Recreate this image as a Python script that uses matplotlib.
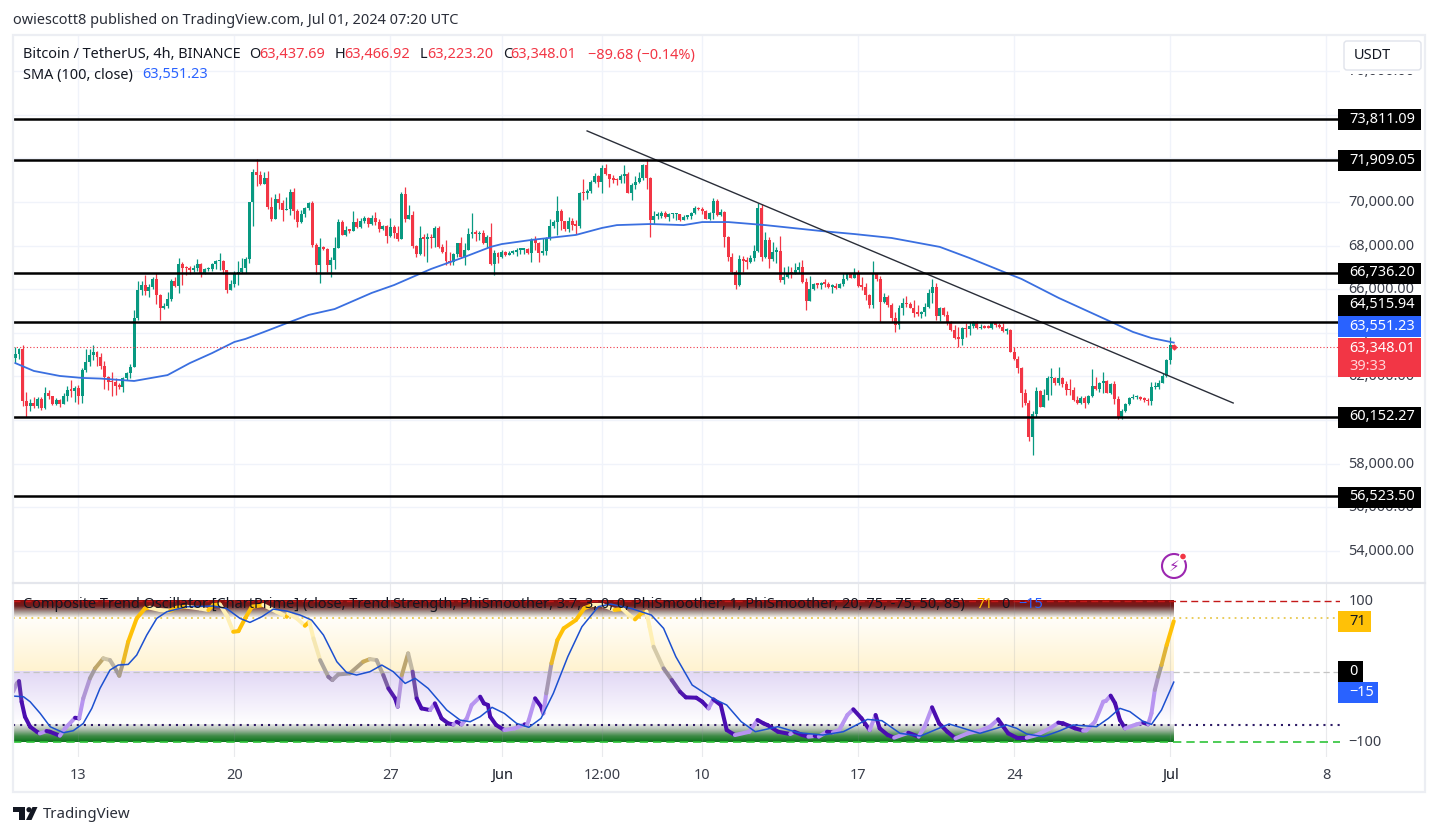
import numpy as np
import matplotlib
matplotlib.use("Agg")
import matplotlib.pyplot as plt
from matplotlib.collections import LineCollection
from matplotlib.colors import LinearSegmentedColormap, to_rgb
from matplotlib.patches import Circle, FancyBboxPatch, Polygon, Rectangle
from matplotlib.transforms import ScaledTranslation

plt.rcParams['font.family'] = ['Noto Sans', 'DejaVu Sans']

# 4h candles in thousands of USDT, one entry per bar (May 10 04:00 -> Jul 1 04:00)
closes_k = [
    63.03, 63.24, 60.89, 60.64, 60.77, 60.64, 60.95, 60.54, 61.22, 61.1,
    60.74, 60.92, 60.74, 61.1, 61.38, 61.35, 61.49, 61.12, 62.3, 62.68,
    62.98, 63.14, 62.88, 62.48, 61.99, 61.76, 61.73, 61.56, 61.53, 61.91,
    62.14, 62.42, 64.66, 65.96, 66.19, 65.93, 66.11, 66.47, 65.73, 65.15,
    65.23, 65.53, 66.39, 66.15, 67.16, 66.97, 66.96, 66.88, 66.95, 67.16,
    66.76, 66.91, 66.93, 67.16, 67.29, 67.3, 66.88, 65.96, 66.24, 66.7,
    66.77, 66.95, 67.37, 69.98, 71.39, 71.24, 70.83, 71.09, 69.79, 69.2,
    70.12, 69.94, 69.63, 69.7, 70.47, 69.6, 69.1, 69.45, 69.71, 69.94,
    68.03, 67.11, 67.92, 67.86, 67.11, 67.34, 67.9, 69.1, 68.49, 68.72,
    68.69, 69.1, 68.84, 69.14, 69.25, 69.0, 69.28, 69.1, 68.74, 68.9,
    68.44, 68.87, 68.56, 68.29, 70.37, 69.2, 69.4, 67.99, 67.61, 68.33,
    68.31, 68.38, 68.33, 68.79, 67.95, 67.72, 67.29, 67.23, 67.6, 68.1,
    67.49, 67.8, 68.53, 68.64, 68.53, 68.56, 68.1, 68.38, 67.16, 67.68,
    67.46, 67.72, 67.57, 67.68, 67.69, 67.8, 67.82, 67.84, 67.68, 68.26,
    68.1, 67.68, 67.75, 68.33, 68.9, 69.07, 69.59, 69.14, 68.75, 69.14,
    68.95, 68.9, 70.43, 70.41, 70.52, 70.9, 71.19, 70.9, 71.57, 71.28,
    71.04, 71.01, 71.0, 71.19, 71.28, 70.43, 70.78, 70.93, 71.09, 71.7,
    71.09, 69.17, 69.36, 69.37, 69.48, 69.33, 69.43, 69.44, 69.45, 69.17,
    69.33, 69.34, 69.51, 69.71, 69.66, 69.59, 69.22, 69.48, 70.06, 69.4,
    69.56, 68.41, 67.49, 66.8, 66.19, 67.37, 67.29, 67.26, 67.42, 67.75,
    69.71, 67.49, 68.26, 67.38, 67.72, 67.75, 66.42, 66.57, 66.73, 66.7,
    66.88, 67.0, 66.35, 65.47, 66.01, 66.24, 66.21, 66.27, 66.24, 66.12,
    66.15, 66.07, 66.22, 66.47, 66.73, 66.53, 66.73, 66.15, 66.12, 65.73,
    65.27, 66.7, 66.47, 65.43, 65.66, 65.27, 64.66, 64.36, 65.12, 65.38,
    65.3, 65.15, 64.89, 64.87, 64.97, 65.17, 65.81, 66.12, 64.77, 65.12,
    64.82, 64.43, 64.13, 63.75, 63.72, 64.2, 64.16, 64.31, 64.51, 64.2,
    64.25, 64.23, 64.22, 64.43, 64.34, 64.28, 64.1, 64.13, 63.13, 62.82,
    62.37, 61.23, 60.77, 59.24, 60.28, 61.33, 60.61, 61.15, 61.91, 61.92,
    61.68, 61.91, 61.65, 61.38, 61.36, 60.92, 60.77, 61.0, 60.77, 61.1,
    61.56, 61.41, 61.68, 61.79, 61.26, 61.65, 60.97, 60.08, 60.43, 60.74,
    61.0, 61.04, 61.06, 60.98, 60.92, 60.87, 61.5, 61.53, 61.72, 62.02,
    62.76, 63.44, 63.348,
]
highs_k = [
    63.33, 63.29, 63.44, 61.27, 60.95, 61.04, 61.04, 61.04, 61.5, 61.38,
    61.1, 61.0, 60.97, 61.22, 61.56, 61.84, 61.55, 61.6, 62.37, 63.24,
    63.24, 63.44, 63.15, 63.06, 62.72, 62.0, 62.22, 61.91, 61.68, 61.95,
    62.22, 62.57, 65.04, 66.39, 66.39, 66.65, 66.25, 66.57, 66.73, 65.8,
    65.38, 65.89, 66.45, 66.57, 67.42, 67.26, 67.06, 67.05, 67.1, 67.37,
    67.2, 66.96, 67.0, 67.22, 67.33, 67.68, 67.33, 66.9, 66.4, 66.85,
    67.29, 67.42, 67.46, 70.0, 71.5, 71.96, 71.4, 71.39, 71.44, 70.21,
    70.37, 70.4, 70.09, 70.24, 70.58, 70.63, 69.7, 69.65, 69.78, 70.0,
    70.06, 68.1, 68.33, 67.98, 67.9, 67.46, 68.38, 69.2, 69.17, 68.9,
    68.77, 69.59, 69.25, 69.25, 69.36, 69.3, 69.4, 69.56, 69.2, 68.95,
    68.95, 69.25, 68.95, 68.9, 70.47, 70.67, 69.86, 69.6, 68.05, 68.9,
    68.53, 68.56, 68.53, 68.9, 68.9, 68.07, 68.26, 67.72, 67.64, 68.13,
    68.38, 68.1, 68.79, 69.48, 68.72, 68.68, 68.72, 68.49, 69.05, 67.8,
    67.72, 67.8, 67.77, 67.75, 67.8, 67.87, 67.83, 67.87, 67.87, 68.33,
    68.44, 68.18, 68.33, 68.38, 69.2, 69.17, 70.27, 69.66, 69.15, 69.3,
    69.25, 69.17, 70.47, 71.04, 70.58, 71.0, 71.35, 71.24, 71.7, 71.74,
    71.3, 71.24, 71.09, 71.28, 71.7, 71.39, 70.86, 71.19, 71.39, 71.74,
    71.96, 71.13, 69.59, 69.56, 69.59, 69.59, 69.51, 69.48, 69.48, 69.4,
    69.4, 69.4, 69.56, 69.82, 69.78, 69.78, 69.63, 69.56, 70.17, 70.12,
    69.66, 69.6, 68.44, 67.64, 66.9, 67.57, 67.52, 67.49, 67.57, 68.03,
    69.97, 69.91, 68.64, 68.41, 68.18, 67.92, 68.44, 67.0, 67.06, 67.0,
    67.19, 67.26, 67.34, 66.5, 66.6, 66.27, 66.3, 66.35, 66.45, 66.35,
    66.24, 66.27, 66.3, 66.73, 66.76, 66.73, 66.96, 66.88, 66.54, 66.27,
    65.8, 67.29, 66.76, 66.6, 65.84, 65.73, 65.38, 64.97, 65.27, 65.58,
    65.69, 65.43, 65.5, 65.27, 65.02, 65.35, 66.0, 66.45, 66.27, 65.17,
    65.17, 65.02, 64.56, 64.36, 64.25, 64.25, 64.46, 64.51, 64.54, 64.55,
    64.39, 64.36, 64.36, 64.51, 64.47, 64.47, 64.44, 64.2, 64.16, 63.36,
    62.94, 62.45, 61.41, 60.92, 60.43, 61.53, 61.38, 61.41, 62.02, 62.37,
    61.96, 62.45, 61.99, 61.79, 61.87, 61.53, 61.1, 61.1, 61.1, 61.15,
    62.33, 61.96, 61.76, 62.22, 61.84, 61.68, 61.81, 61.1, 60.49, 60.8,
    61.07, 61.18, 61.15, 61.1, 61.05, 61.0, 61.76, 61.76, 61.84, 62.14,
    62.79, 63.8, 63.467,
]
lows_k = [
    62.6, 62.78, 60.64, 60.15, 60.43, 60.55, 60.55, 60.46, 60.5, 60.96,
    60.7, 60.68, 60.58, 60.74, 60.89, 61.07, 60.84, 60.74, 60.8, 62.2,
    62.48, 62.75, 62.48, 62.33, 61.41, 61.38, 61.12, 61.15, 61.41, 61.3,
    61.84, 61.91, 62.42, 64.6, 65.73, 65.73, 65.66, 65.99, 65.32, 64.59,
    65.08, 65.12, 65.47, 66.1, 65.84, 66.19, 66.65, 66.7, 66.8, 66.85,
    66.57, 66.7, 66.82, 66.85, 66.91, 66.88, 66.7, 65.84, 65.96, 66.1,
    66.2, 66.73, 66.76, 67.19, 68.9, 70.73, 70.78, 70.83, 69.66, 69.14,
    69.2, 69.7, 69.14, 69.63, 69.4, 69.2, 68.84, 69.05, 69.33, 69.65,
    67.95, 66.7, 66.3, 67.8, 66.8, 66.57, 66.91, 67.87, 68.47, 68.45,
    68.56, 68.68, 68.8, 68.8, 69.05, 68.84, 68.95, 68.95, 68.64, 68.7,
    68.13, 68.4, 68.33, 68.23, 68.35, 69.1, 69.2, 67.87, 67.49, 67.55,
    67.53, 67.26, 67.9, 67.95, 67.87, 67.64, 67.11, 67.11, 67.11, 67.5,
    67.42, 67.11, 67.78, 68.33, 68.2, 68.26, 68.07, 67.87, 67.11, 66.65,
    67.19, 67.42, 67.52, 67.55, 67.6, 67.52, 67.6, 67.6, 67.6, 67.26,
    67.8, 67.26, 67.57, 67.57, 68.26, 68.79, 68.49, 68.72, 68.68, 68.64,
    68.72, 68.53, 68.79, 70.09, 70.12, 70.43, 70.86, 70.67, 70.4, 71.24,
    70.7, 70.86, 70.78, 70.89, 70.89, 70.4, 70.09, 70.58, 70.89, 71.0,
    70.58, 68.41, 68.99, 69.2, 69.25, 69.28, 69.14, 69.25, 69.17, 69.13,
    69.2, 69.2, 69.22, 69.45, 69.63, 69.45, 69.2, 69.17, 69.2, 69.36,
    69.36, 67.95, 67.29, 66.73, 66.0, 66.15, 66.8, 66.91, 67.22, 67.31,
    67.7, 67.29, 67.41, 66.96, 67.31, 67.19, 66.35, 66.24, 66.5, 66.5,
    66.7, 66.76, 66.27, 65.05, 65.45, 65.96, 66.05, 66.0, 66.08, 66.04,
    65.84, 66.02, 66.1, 66.16, 66.42, 66.5, 66.5, 66.1, 65.96, 65.5,
    65.12, 65.12, 66.39, 64.51, 65.35, 65.17, 64.51, 64.05, 64.16, 64.82,
    65.17, 65.12, 64.74, 64.77, 64.66, 64.77, 65.12, 65.35, 64.59, 64.56,
    64.78, 64.36, 64.1, 63.7, 63.36, 63.44, 63.82, 63.9, 64.2, 64.16,
    64.16, 64.2, 64.2, 64.17, 64.28, 64.22, 64.05, 63.94, 63.1, 62.75,
    62.14, 60.58, 60.69, 59.05, 58.4, 60.15, 60.58, 60.58, 60.92, 61.15,
    61.6, 61.6, 61.53, 61.15, 61.15, 60.89, 60.74, 60.74, 60.57, 60.74,
    61.07, 61.38, 61.3, 61.26, 61.23, 61.2, 60.74, 60.05, 60.05, 60.38,
    60.69, 60.95, 60.95, 60.92, 60.83, 60.69, 60.68, 61.41, 61.41, 61.68,
    61.95, 62.56, 63.223,
]
first_open_k = 62.84

# SMA(100), read at bar positions along the curve
sma_bars = [0, 5, 12, 18, 23, 32, 41, 47, 53, 59, 62, 67, 74, 79, 86, 96, 102, 112, 121, 128,
            131, 139, 151, 158, 162, 171, 180, 185, 192, 202, 217, 226, 236, 249, 257, 267,
            271, 281, 294, 301, 306, 312]
sma_k = [62.61, 62.25, 62.02, 61.93, 61.9, 61.79, 62.06, 62.61, 63.07, 63.58, 63.72, 64.04, 64.5,
         64.82, 65.09, 65.83, 66.19, 66.93, 67.48, 67.94, 68.07, 68.26, 68.49, 68.81, 68.94,
         68.99, 68.94, 69.08, 69.08, 68.94, 68.67, 68.53, 68.35, 67.94, 67.43, 66.74, 66.47,
         65.6, 64.59, 64.04, 63.76, 63.55]

# drawn trendline, two anchors
trend_bars = [154, 328]
trend_k = [73.26, 60.78]

level_prices = [73811.09, 71909.05, 66736.20, 64515.94, 60152.27, 56523.50]
last_price = 63348.01
price_ticks = [54000, 56000, 58000, 60000, 62000, 64000, 66000, 68000, 70000, 72000, 74000, 76000]

# time axis
time_ticks = [17, 59, 101, 131, 158, 185, 227, 269, 311, 353]
time_labels = ['13', '20', '27', 'Jun', '12:00', '10', '17', '24', 'Jul', '8']
time_bold = ['Jun', 'Jul']

# oscillator thick line, read at its bends
osc_bars = [-0.6, 0.4, 1.0, 1.7, 2.6, 4.0, 5.8, 6.6, 8.4, 9.3, 12.0, 13.4, 16.1, 17.2, 18.3, 20.1,
            21.5, 23.7, 25.5, 26.9, 28.0, 29.1, 30.4, 32.7, 34.9, 36.3, 39.0, 41.7, 43.5, 46.2,
            49.7, 52.0, 53.3, 55.1, 56.9, 58.7, 60.1, 61.9, 63.7, 66.8, 70.4, 73.1, 73.5, 75.8,
            78.0, 79.2, 80.3, 82.1, 84.3, 85.4, 87.0, 90.1, 93.7, 95.5, 97.3, 99.1, 100.5, 102.3,
            103.0, 104.1, 105.8, 107.0, 108.1, 109.4, 111.7, 113.0, 114.8, 116.6, 118.0, 118.9,
            120.2, 121.6, 122.9, 125.2, 126.2, 127.3, 127.9, 129.5, 131.7, 134.5, 137.2, 137.8,
            138.3, 140.0, 141.6, 142.2, 143.0, 144.4, 146.0, 147.7, 151.0, 153.2, 155.4, 158.1,
            161.4, 163.6, 165.3, 166.9, 168.6, 170.0, 170.8, 171.9, 174.6, 176.8, 179.0, 180.6,
            183.4, 185.0, 186.7, 188.0, 190.0, 191.6, 193.8, 197.7, 199.9, 201.5, 202.6, 205.4,
            208.7, 209.8, 212.0, 213.6, 215.3, 216.4, 218.6, 220.2, 221.9, 224.1, 225.7, 227.9,
            230.1, 231.7, 232.8, 235.0, 236.7, 240.5, 243.3, 244.9, 246.9, 248.8, 251.0, 253.2,
            256.5, 259.8, 262.5, 264.7, 266.1, 267.4, 269.7, 272.4, 275.1, 278.7, 280.9, 282.2,
            285.4, 287.6, 288.5, 290.8, 293.0, 293.7, 295.0, 296.2, 297.5, 298.9, 302.0, 303.8,
            305.1, 306.0, 306.9, 307.8, 308.7, 310.1, 312.0]
osc_vals = [-28.6, -16.8, -13.5, -42.7, -63.8, -78, -85, -87.4, -84, -85, -90.7, -80.3, -65.3, -66.2,
            -38, -9.7, 4.4, 18.5, 16.1, 4.4, -6, 13.8, 42, 75, 89, 90, 86.7, 85.8, 90, 91.4,
            89, 86.7, 93.8, 94.7, 79.7, 56.1, 57, 75, 91.4, 93.8, 84.4, 77.3, 82, 75,
            64.6, 70.2, 46.7, 16.1, -7.4, -12.1, -4.1, -2.7, 13.8, 17.5, 16.1, -5, -23.9, -38,
            -49.7, -5, 25.5, -0.3, -38, -52.1, -54.4, -45, -66.2, -73.3, -74.7, -70.9,
            -74.7, -66.2, -47.4, -35.6, -45, -47.3, -63.8, -75.6, -82.6, -80.3, -74.6, -75.6,
            -68.5, -37.9, -49.7, -59.1, -30.9, 11.5, 44.4, 60.9, 72.7, 89.1, 93.8, 93.8,
            86.8, 88.2, 79.7, 73.6, 82.1, 84.4, 63.2, 35, 4.4, -12, -28.5, -36.5,
            -37, -42.6, -52, -39.3, -47.3, -82.6, -89.7, -85, -68.5, -73.2, -75.6, -85,
            -88.3, -85, -89.7, -92, -91, -92, -85, -86, -82.6, -61.4, -53.4, -66.1,
            -82.6, -61.4, -80.3, -89.7, -93.4, -86.4, -92, -77.9, -50.6, -73.2, -85, -94.4,
            -87.3, -83.5, -77.9, -67.5, -77.9, -87.3, -93.4, -93.4, -89.6, -80.2, -72.2, -73.2,
            -80.2, -83.5, -83, -70.8, -42.6, -41.6, -34.1, -44.9, -68.4, -80.2, -74.6, -72.2,
            -74.6, -59, -26.1, -7.4, 9.1, 37.3, 71]

# oscillator signal line (thin blue)
signal_bars = [-0.5, 2.2, 4.0, 6.7, 9.4, 13.0, 15.6, 18.3, 20.6, 22.8, 25.5, 27.7, 30.4, 32.7, 35.4,
               38.1, 40.8, 46.2, 53.3, 56.9, 60.5, 63.2, 66.4, 69.5, 73.1, 76.7, 79.8, 83.0, 86.6,
               89.2, 91.9, 95.5, 98.7, 101.8, 105.0, 107.7, 111.2, 116.2, 119.8, 122.5, 125.2,
               128.4, 131.7, 135.0, 138.3, 141.6, 144.9, 148.8, 152.6, 157.0, 160.3, 165.8, 171.3,
               174.6, 177.9, 182.3, 187.8, 191.6, 195.5, 199.3, 205.4, 210.9, 217.5, 223.0, 229.5,
               233.4, 238.3, 243.8, 251.5, 259.8, 264.3, 267.0, 269.7, 272.4, 276.9, 281.4, 284.9,
               291.2, 294.4, 297.5, 300.2, 303.8, 306.0, 308.7, 312.0]
signal_vals = [-34.7, -35.6, -42.7, -59.1, -78, -86.4, -83.6, -73.3, -52.1, -23.9, 2, 9.1, 10, 23.2, 51.4,
               75, 84.4, 91.4, 92.4, 89, 75, 69.3, 77.3, 88.1, 85.3, 79.7, 72.6, 51.4, 13.8,
               -1.3, -5, -0.3, 9.1, -0.3, -16.8, -9.7, -23.9, -54.4, -68.6, -70.9, -63.8,
               -50.6, -59.1, -73.2, -78.8, -66.1, -30.9, 20.9, 63.2, 91.5, 95.2, 89.1, 79.7,
               60.9, 20.9, -19.1, -37.9, -47.3, -70.8, -85, -77.9, -86.4, -89.7, -85, -67.6,
               -69.4, -87.3, -91.1, -74.1, -87.3, -80.2, -75.5, -80.2, -88.2, -92, -83.5, -75.5,
               -77.9, -66.1, -52, -56.7, -70.8, -74.6, -54.3, -15]

# colours
GREEN = '#089981'
RED = '#f23645'
BLUE = '#2962ff'
GRID = '#f0f3fa'
TEXT = '#131722'
GOLD = '#ffc107'
PALE = '#fff0b5'
DARK_PURPLE = '#4a0db0'
LIGHT_PURPLE = '#b794f0'

W, H = 1438, 836
LEFT, RIGHT = 13, 1340
BAR0_PX, BAR_PX = 15.3, 3.713
X_LIM = ((LEFT - BAR0_PX) / BAR_PX, (RIGHT - BAR0_PX) / BAR_PX)
FONT = 10.45


def px_axes(fig, x0, y0, x1, y1, **kw):
    return fig.add_axes([x0 / W, 1 - y1 / H, (x1 - x0) / W, (y1 - y0) / H], **kw)


def lift_labels(axis_obj, fig, pixels):
    # tick labels sit a little high in the reference
    shift = ScaledTranslation(0, pixels / 72 * 0.72, fig.dpi_scale_trans)
    for lab in axis_obj.get_ticklabels():
        lab.set_transform(lab.get_transform() + shift)


fig = plt.figure(figsize=(W / 100, H / 100), dpi=100, facecolor='white')

# ---- price pane ----
ax = px_axes(fig, LEFT, 36, RIGHT, 582, zorder=1)
ax.set_xlim(*X_LIM)
ax.set_ylim(70000 - (582 - 202) / 21.8 * 1000, 70000 + (202 - 36) / 21.8 * 1000)
for s in ax.spines.values():
    s.set_visible(False)
ax.set_axisbelow(True)
ax.grid(True, color=GRID, lw=1)

closes = np.array(closes_k) * 1000
opens = np.r_[first_open_k * 1000, closes[:-1]]
highs = np.maximum(np.array(highs_k) * 1000, np.maximum(opens, closes))
lows = np.minimum(np.array(lows_k) * 1000, np.minimum(opens, closes))
bars = np.arange(len(closes))
colors = [GREEN if c >= o else RED for o, c in zip(opens, closes)]

ax.vlines(bars, lows, highs, colors=colors, lw=0.9, zorder=2)
heights = np.maximum(np.abs(closes - opens), 70)
ax.bar(bars, heights, bottom=np.minimum(opens, closes), width=0.8, color=colors, lw=0, zorder=3)

ax.plot(sma_bars, np.array(sma_k) * 1000, color='#3a6fe0', lw=1.3, zorder=4)
ax.plot(trend_bars, np.array(trend_k) * 1000, color='#2a2e39', lw=1, zorder=5)
for p in level_prices:
    ax.axhline(p, color='black', lw=1.8, zorder=6)
ax.axhline(last_price, color=RED, lw=0.8, ls=(0, (1, 2)), zorder=4)
ax.plot([bars[-1]], [last_price], marker='o', ms=2.5, color=RED, zorder=7)

ax.set_xticks(time_ticks)
ax.tick_params(axis='x', length=0, labelbottom=False)
ax.set_yticks(price_ticks)
ax.set_yticklabels([f'{p:,.2f}' for p in price_ticks])
ax.yaxis.tick_right()
ax.tick_params(axis='y', length=0, pad=6, labelsize=FONT, labelcolor='#3a3e4a')
lift_labels(ax.yaxis, fig, 1.5)

# ---- oscillator pane ----
OSC_PX = 0.7085
osc = px_axes(fig, LEFT, 583, RIGHT, 757, zorder=1)
osc.set_facecolor('white')
for s in osc.spines.values():
    s.set_visible(False)

band_end = bars[-1]
bands = [
    (75, 100, ['#fffdf6', '#a89a94', '#6f2020', '#8c0c0c']),
    (0, 75, ['#fff3d0', '#fffefa']),
    (-75, 0, ['#ffffff', '#e2d8f5']),
    (-100, -75, ['#0b741b', '#3f8a47', '#a5b8a5', '#ebebeb']),
]
for lo, hi, cols in bands:
    cmap = LinearSegmentedColormap.from_list('band', cols)
    osc.imshow(np.linspace(1, 0, 64)[:, None], extent=[X_LIM[0], band_end, lo, hi],
               aspect='auto', cmap=cmap, vmin=0, vmax=1, zorder=1)

osc.set_xlim(*X_LIM)
osc.set_ylim(-(757 - 671.5) / OSC_PX, (671.5 - 583) / OSC_PX)
for t in time_ticks:
    osc.axvline(t, color='#8a8f9c', lw=0.8, alpha=0.18, zorder=2)

osc.axhline(100, color='#c41818', lw=1, ls=(0, (5, 3)), zorder=3)
osc.axhline(75, color='#e8c84e', lw=1.3, ls=(0, (1, 2.4)), zorder=3)
osc.axhline(0, color='#c4c4c4', lw=0.9, ls=(0, (5, 3)), zorder=3)
osc.axhline(-75, color='#2d1a66', lw=1.5, ls=(0, (1, 2.4)), zorder=3)
osc.axhline(-100, color='#2fc43a', lw=1.2, ls=(0, (5, 3)), zorder=3)

osc.plot(signal_bars, signal_vals, color='#1c50d0', lw=1.1, zorder=6)

# thick line takes its colour from direction and distance from zero
pts = np.column_stack([osc_bars, osc_vals])
segs = np.stack([pts[:-1], pts[1:]], axis=1)
seg_cols = []
for (x0, v0), (x1, v1) in segs:
    mid = (v0 + v1) / 2
    rising = v1 > v0
    if mid >= 0:
        base = GOLD if rising else PALE
    else:
        base = LIGHT_PURPLE if rising else DARK_PURPLE
    mix = min(abs(mid) / 35, 1)
    seg_cols.append(tuple(mix * b + (1 - mix) * g for b, g in zip(to_rgb(base), to_rgb('#a09a9a'))))
osc.add_collection(LineCollection(segs, colors=seg_cols, linewidths=2.9, capstyle='round', zorder=5))

osc.set_xticks(time_ticks)
osc.set_xticklabels(time_labels)
for lab in osc.get_xticklabels():
    lab.set_color(TEXT if lab.get_text() in time_bold else '#3a3e4a')
    lab.set_fontweight('bold' if lab.get_text() in time_bold else 'normal')
osc.tick_params(axis='x', length=0, pad=8, labelsize=FONT)
osc.set_yticks([100, -100])
osc.set_yticklabels(['100', '\u2212100'])
osc.yaxis.tick_right()
osc.tick_params(axis='y', length=0, pad=6, labelsize=FONT, labelcolor='#3a3e4a')
lift_labels(osc.yaxis, fig, 1.5)

# ---- page furniture, in pixel coordinates ----
top = px_axes(fig, 0, 0, W, H, zorder=5)
top.set_xlim(0, W)
top.set_ylim(H, 0)
top.axis('off')
top.patch.set_alpha(0)


def label(x, y, s, color=TEXT, size=FONT, **kw):
    top.text(x, y + 1, s, color=color, fontsize=size, va='center', **kw)


top.add_patch(Rectangle((LEFT, 34.5), 1425 - LEFT, 792 - 34.5, fc='none', ec='#eceef3', lw=1.6))
top.plot([LEFT, 1425], [582.5, 582.5], color='#e4e6ec', lw=1.6)

label(13, 19, 'owiescott8 published on TradingView.com, Jul 01, 2024 07:20 UTC', '#2a2e39')

label(23, 54, 'Bitcoin / TetherUS, 4h, BINANCE', TEXT)
for x, s, c in [(249, 'O', TEXT), (259, '63,437.69', RED), (335, 'H', TEXT), (344, '63,466.92', RED),
                (420, 'L', TEXT), (427, '63,223.20', RED), (503, 'C', TEXT), (510.5, '63,348.01', RED),
                (588, '\u221289.68 (\u22120.14%)', RED)]:
    label(x, 54, s, c)
label(23, 74, 'SMA (100, close)', TEXT)
label(142, 74, '63,551.23', BLUE)

label(23, 603, 'Composite Trend Oscillator [ChartPrime] (close, Trend Strength, PhiSmoother, 3.7, 3, 0, 0, '
               'PhiSmoother, 1, PhiSmoother, 20, 75, -75, 50, 85)', TEXT)
label(976, 603, '71', GOLD)
label(1001, 603, '0', TEXT)
label(1018, 603, '\u221215', BLUE)

# right-hand price boxes
for s, yc, col in [('73,811.09', 119.5, 'black'), ('71,909.05', 160.5, 'black'),
                   ('66,736.20', 273, 'black'), ('64,515.94', 305, 'black'),
                   ('63,551.23', 326.5, BLUE), ('60,152.27', 417, 'black'), ('56,523.50', 497, 'black')]:
    top.add_patch(Rectangle((1338, yc - 10.5), 83, 21, fc=col, ec='none'))
    label(1349, yc - 1, s, 'white')
top.add_patch(Rectangle((1338, 338), 83, 39, fc=RED, ec='none'))
label(1349, 348, '63,348.01', 'white')
label(1349, 366, '39:33', '#ffd5d9')

# oscillator value boxes
for s, x1, y0, col, tc, tx in [('71', 1371, 611, GOLD, TEXT, 1349), ('0', 1363, 661, 'black', 'white', 1349),
                               ('\u221215', 1378, 682, BLUE, 'white', 1349)]:
    top.add_patch(Rectangle((1338, y0), x1 - 1338, 21, fc=col, ec='none'))
    label(tx, y0 + 9.5, s, tc)

# USDT button, it hides most of the top price tick
top.add_patch(Rectangle((1343, 40), 79, 34, fc='white', ec='none'))
top.add_patch(FancyBboxPatch((1344, 41), 77, 29, boxstyle='round,pad=0,rounding_size=3',
                             fc='white', ec='#e0e3eb', lw=1))
label(1372, 54.5, 'USDT', TEXT, ha='center')

# alert icon
top.add_patch(Circle((1174, 566), 12, fc='white', ec='#9c27b0', lw=1.5))
top.text(1174, 566, '\u26a1', color='#9c27b0', fontsize=11, ha='center', va='center',
         family=['DejaVu Sans'])
top.add_patch(Circle((1183, 556.5), 3.5, fc=RED, ec='white', lw=1))

# TradingView mark
top.add_patch(Polygon([(13, 807), (25, 807), (25, 820), (19, 820), (19, 812), (13, 812)], fc=TEXT, ec='none'))
top.add_patch(Circle((29, 809.7), 2.6, fc=TEXT, ec='none'))
top.add_patch(Polygon([(32.5, 807), (37.5, 807), (31.5, 820), (26, 820)], fc=TEXT, ec='none'))
label(42.5, 813, 'TradingView', '#2a2e39', 10.8)

fig.savefig('out.png', dpi=100, facecolor='white')
